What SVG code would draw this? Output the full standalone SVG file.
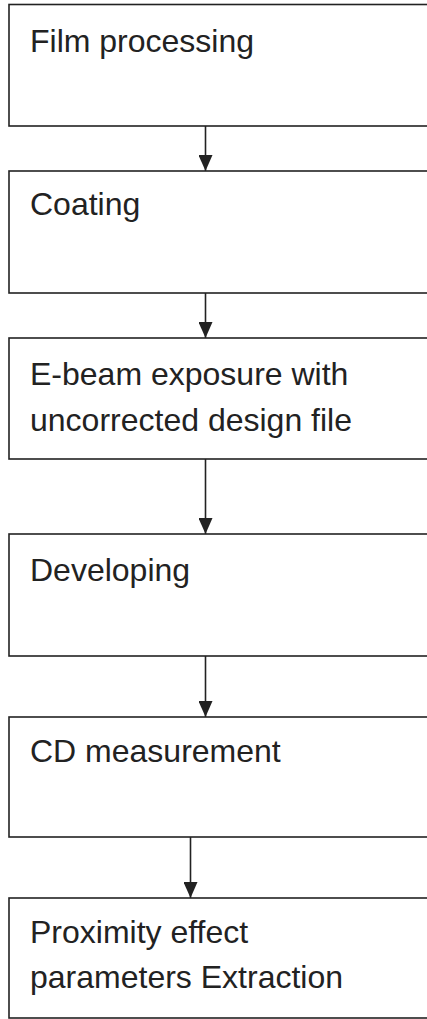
<svg xmlns="http://www.w3.org/2000/svg" width="427" height="1019" viewBox="0 0 427 1019">
<defs>
<style>
.box{fill:#fff;stroke:#222;stroke-width:1.6}
.t{font-family:"Liberation Sans",Arial,sans-serif;font-size:32px;fill:#222}
.c{stroke:#222;stroke-width:1.6;fill:none}
</style>
<marker id="ah" markerWidth="16" markerHeight="14" refX="16" refY="7" orient="auto" markerUnits="userSpaceOnUse" viewBox="0 0 16 14">
<path d="M0,0 L16,7 L0,14 Z" fill="#222"/>
</marker>
</defs>
<rect width="427" height="1019" fill="#fff"/>
<g id="n1"><rect class="box" x="9" y="4.5" width="430" height="121.5"/><text class="t" x="30" y="52">Film processing</text></g>
<g id="n2"><rect class="box" x="9" y="171" width="430" height="122"/><text class="t" x="30" y="215">Coating</text></g>
<g id="n3"><rect class="box" x="9" y="338" width="430" height="121"/><text class="t" x="30" y="385">E-beam exposure with</text><text class="t" x="30" y="431">uncorrected design file</text></g>
<g id="n4"><rect class="box" x="9" y="534" width="430" height="122"/><text class="t" x="30" y="581">Developing</text></g>
<g id="n5"><rect class="box" x="9" y="717" width="430" height="120"/><text class="t" x="30" y="762">CD measurement</text></g>
<g id="n6"><rect class="box" x="9" y="898" width="430" height="120"/><text class="t" x="30" y="943">Proximity effect</text><text class="t" x="30" y="988">parameters Extraction</text></g>
<g id="connectors">
<line class="c" x1="205.5" y1="126" x2="205.5" y2="171" marker-end="url(#ah)"/>
<line class="c" x1="205.5" y1="293" x2="205.5" y2="338" marker-end="url(#ah)"/>
<line class="c" x1="205.5" y1="459" x2="205.5" y2="534" marker-end="url(#ah)"/>
<line class="c" x1="205.5" y1="656" x2="205.5" y2="717" marker-end="url(#ah)"/>
<line class="c" x1="190.5" y1="837" x2="190.5" y2="898" marker-end="url(#ah)"/>
</g>
</svg>
